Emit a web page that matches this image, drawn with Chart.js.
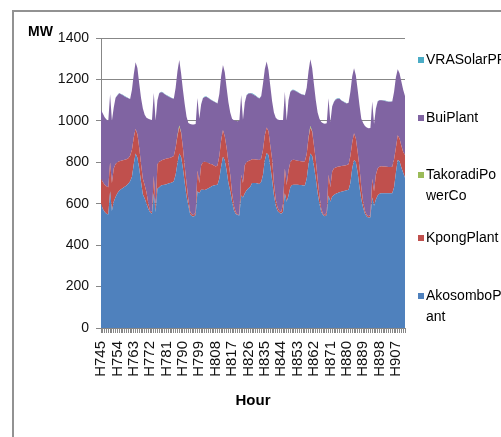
<!DOCTYPE html>
<html>
<head>
<meta charset="utf-8">
<script src="https://cdn.jsdelivr.net/npm/chart.js@4/dist/chart.umd.min.js"></script>
<style>
  html, body { margin: 0; padding: 0; background: #fff; }
  canvas { display: block; }
</style>
</head>
<body>
<canvas id="c" width="501" height="437"></canvas>
<script>
// Hourly generation by plant, hours H745 .. H912 (one week), MW
const hours = Array.from({ length: 168 }, (_, i) => 'H' + (745 + i));

const seriesNames = ['AkosomboPlant', 'KpongPlant', 'TakoradiPowerCo', 'BuiPlant', 'VRASolarPP'];

const akosomboPlant = [
  600, 575, 560, 552, 548, 660, 565, 610, 632, 650, 662, 670, 676, 682, 688, 696, 708, 730, 790, 842, 822, 770, 705, 645,
  625, 600, 575, 558, 552, 650, 560, 672, 680, 688, 690, 692, 694, 698, 700, 703, 708, 740, 795, 842, 825, 770, 700, 635,
  590, 548, 540, 538, 545, 660, 650, 668, 668, 666, 670, 675, 680, 685, 688, 690, 692, 720, 780, 827, 810, 760, 700, 660,
  610, 570, 550, 545, 543, 640, 630, 650, 665, 675, 682, 700, 700, 700, 698, 695, 705, 740, 810, 845, 835, 780, 715, 640,
  590, 565, 556, 552, 560, 650, 610, 640, 680, 690, 692, 692, 692, 690, 690, 688, 688, 720, 790, 843, 830, 780, 720, 650,
  600, 560, 545, 540, 545, 640, 610, 635, 642, 648, 652, 655, 658, 660, 662, 665, 668, 700, 770, 811, 800, 750, 680, 620,
  580, 552, 538, 532, 535, 630, 590, 620, 640, 648, 650, 650, 650, 650, 650, 650, 650, 680, 750, 811, 805, 775, 750, 725
];

const kpongPlant = [
  120, 130, 132, 132, 132, 140, 135, 160, 160, 150, 143, 138, 134, 130, 127, 124, 124, 130, 130, 120, 113, 100, 85, 75,
  65, 55, 25, 7, 8, 85, 20, 118, 123, 120, 122, 123, 124, 122, 122, 122, 122, 130, 132, 128, 117, 100, 80, 65,
  30, 12, 8, 7, 15, 100, 50, 117, 132, 137, 130, 121, 112, 105, 97, 90, 93, 110, 125, 129, 115, 110, 100, 80,
  40, 20, 10, 3, 3, 100, 70, 137, 135, 131, 128, 115, 115, 114, 114, 116, 113, 120, 120, 123, 115, 100, 100, 60,
  30, 15, 9, 8, 40, 120, 80, 120, 120, 121, 120, 118, 116, 116, 115, 115, 117, 120, 127, 124, 117, 100, 90, 70,
  40, 15, 5, 5, 15, 100, 70, 120, 129, 127, 126, 125, 124, 123, 123, 122, 122, 130, 125, 129, 115, 100, 95, 60,
  30, 13, 7, 8, 10, 90, 70, 120, 130, 131, 131, 130, 130, 128, 127, 127, 128, 135, 120, 119, 110, 105, 100, 110
];

const takoradiPowerCo = [
  0, 0, 0, 0, 0, 0, 0, 0, 0, 0, 0, 0, 0, 0, 0, 0, 0, 0, 0, 0, 0, 0, 0, 0,
  0, 0, 0, 0, 0, 0, 0, 0, 0, 0, 0, 0, 0, 0, 0, 0, 0, 0, 3, 8, 3, 0, 0, 0,
  0, 0, 0, 0, 0, 0, 0, 0, 0, 0, 0, 0, 0, 0, 0, 0, 0, 0, 0, 0, 0, 0, 0, 0,
  0, 0, 0, 0, 0, 0, 0, 0, 0, 0, 0, 0, 0, 0, 0, 0, 0, 0, 0, 0, 0, 0, 0, 0,
  0, 0, 0, 0, 0, 0, 0, 0, 0, 0, 0, 0, 0, 0, 0, 0, 0, 0, 3, 8, 3, 0, 0, 0,
  0, 0, 0, 0, 0, 0, 0, 0, 0, 0, 0, 0, 0, 0, 0, 0, 0, 0, 0, 0, 0, 0, 0, 0,
  0, 0, 0, 0, 0, 0, 0, 0, 0, 0, 0, 0, 0, 0, 0, 0, 0, 0, 0, 0, 0, 0, 0, 0
];

const buiPlant = [
  333, 330, 326, 322, 320, 328, 300, 294, 319, 323, 328, 320, 314, 306, 298, 289, 273, 290, 305, 321, 320, 310, 320, 340,
  340, 360, 410, 441, 444, 400, 422, 309, 330, 330, 324, 313, 305, 298, 291, 284, 277, 290, 310, 316, 285, 280, 300, 320,
  370, 425, 435, 438, 425, 350, 310, 294, 309, 312, 315, 314, 311, 308, 308, 309, 299, 300, 310, 314, 310, 290, 290, 300,
  360, 413, 440, 450, 454, 385, 305, 302, 324, 325, 323, 315, 310, 306, 301, 297, 301, 320, 320, 318, 295, 290, 280, 340,
  395, 426, 439, 444, 404, 371, 310, 339, 339, 337, 336, 333, 330, 327, 323, 323, 319, 320, 320, 322, 305, 295, 290, 320,
  370, 420, 438, 441, 428, 369, 315, 314, 321, 328, 329, 327, 316, 310, 303, 297, 297, 310, 320, 314, 305, 300, 300, 330,
  380, 410, 423, 424, 421, 373, 325, 319, 324, 320, 318, 318, 316, 316, 315, 315, 316, 325, 340, 319, 315, 310, 300, 285
];

const vraSolarPP = [
  0, 0, 0, 0, 0, 0, 0, 1, 1, 2, 2, 2, 2, 2, 2, 1, 1, 0, 0, 0, 0, 0, 0, 0,
  0, 0, 0, 0, 0, 0, 0, 1, 1, 2, 2, 2, 2, 2, 2, 1, 1, 0, 0, 0, 0, 0, 0, 0,
  0, 0, 0, 0, 0, 0, 0, 1, 1, 2, 2, 2, 2, 2, 2, 1, 1, 0, 0, 0, 0, 0, 0, 0,
  0, 0, 0, 0, 0, 0, 0, 1, 1, 2, 2, 3, 3, 2, 2, 1, 1, 0, 0, 0, 0, 0, 0, 0,
  0, 0, 0, 0, 0, 0, 0, 1, 1, 2, 2, 2, 2, 2, 2, 1, 1, 0, 0, 0, 0, 0, 0, 0,
  0, 0, 0, 0, 0, 0, 0, 1, 1, 2, 2, 2, 2, 2, 2, 1, 1, 0, 0, 0, 0, 0, 0, 0,
  0, 0, 0, 0, 0, 0, 0, 1, 1, 2, 2, 2, 2, 2, 2, 1, 1, 0, 0, 0, 0, 0, 0, 0
];

const yTicks = [0, 200, 400, 600, 800, 1000, 1200, 1400];

const seriesColors = ['#4F81BD', '#C0504D', '#9BBB59', '#8064A2', '#4BACC6'];
const seriesValues = [akosomboPlant, kpongPlant, takoradiPowerCo, buiPlant, vraSolarPP];

const FONT = "'Liberation Sans', Arial, sans-serif";
const GRID = '#878787';

// frame around the chart, unit label and the side legend
const chartDecor = {
  id: 'chartDecor',
  beforeDraw(chart) {
    const ctx = chart.ctx;
    ctx.save();
    ctx.fillStyle = '#fff';
    ctx.fillRect(0, 0, chart.width, chart.height);
    ctx.strokeStyle = '#929292';
    ctx.lineWidth = 2;
    ctx.strokeRect(13, 11, 700, 700);
    ctx.restore();
  },
  afterDraw(chart) {
    const ctx = chart.ctx;
    ctx.save();
    ctx.fillStyle = '#000';
    ctx.textBaseline = 'middle';
    ctx.textAlign = 'left';
    ctx.font = 'bold 14px ' + FONT;
    ctx.fillText('MW', 28, 32);

    // legend lists the series top-down in reverse stacking order
    const rowY = [60, 118, 175, 238, 296];
    const order = [4, 3, 2, 1, 0];
    ctx.font = '14px ' + FONT;
    order.forEach((di, row) => {
      const ds = chart.data.datasets[di];
      const y = rowY[row];
      ctx.fillStyle = ds.backgroundColor;
      ctx.fillRect(418, y - 3, 6, 6);
      ctx.fillStyle = '#000';
      const lines = ds.label.match(/.{1,10}/g);
      lines.forEach((t, k) => ctx.fillText(t, 426, y + k * 21));
    });
    ctx.restore();
  }
};

new Chart(document.getElementById('c'), {
  type: 'line',
  data: {
    labels: hours,
    datasets: seriesNames.map((name, i) => ({
      label: name,
      data: seriesValues[i],
      backgroundColor: seriesColors[i],
      borderColor: 'rgba(0,0,0,0)',
      borderWidth: 0,
      pointRadius: 0,
      pointHoverRadius: 0,
      tension: 0,
      fill: i === 0 ? 'origin' : '-1'
    }))
  },
  options: {
    responsive: false,
    animation: false,
    devicePixelRatio: 1,
    layout: { padding: { left: 12, top: 38, right: 96, bottom: 0 } },
    plugins: {
      legend: { display: false },
      tooltip: { enabled: false }
    },
    scales: {
      x: {
        type: 'category',
        offset: false,
        grid: { drawOnChartArea: false, drawTicks: true, tickLength: 5, color: GRID },
        border: { color: GRID, width: 1 },
        ticks: {
          autoSkip: false,
          minRotation: 90,
          maxRotation: 90,
          padding: 8,
          color: '#111',
          font: { family: FONT, size: 15 },
          callback: function (value, index) {
            return index % 9 === 0 ? this.getLabelForValue(value) : '';
          }
        },
        title: {
          display: true,
          text: 'Hour',
          color: '#000',
          font: { family: FONT, size: 15, weight: 'bold' },
          padding: { top: 4, bottom: 27 }
        },
        afterFit(scale) { scale.height = 109; }
      },
      y: {
        stacked: true,
        min: 0,
        max: 1400,
        grid: { color: GRID, tickLength: 5 },
        border: { color: GRID, width: 1 },
        afterBuildTicks(scale) { scale.ticks = yTicks.map(v => ({ value: v })); },
        ticks: {
          padding: 7,
          color: '#111',
          font: { family: FONT, size: 14 },
          callback: v => String(v)
        },
        afterFit(scale) { scale.width = 89; }
      }
    }
  },
  plugins: [chartDecor]
});
</script>
</body>
</html>
